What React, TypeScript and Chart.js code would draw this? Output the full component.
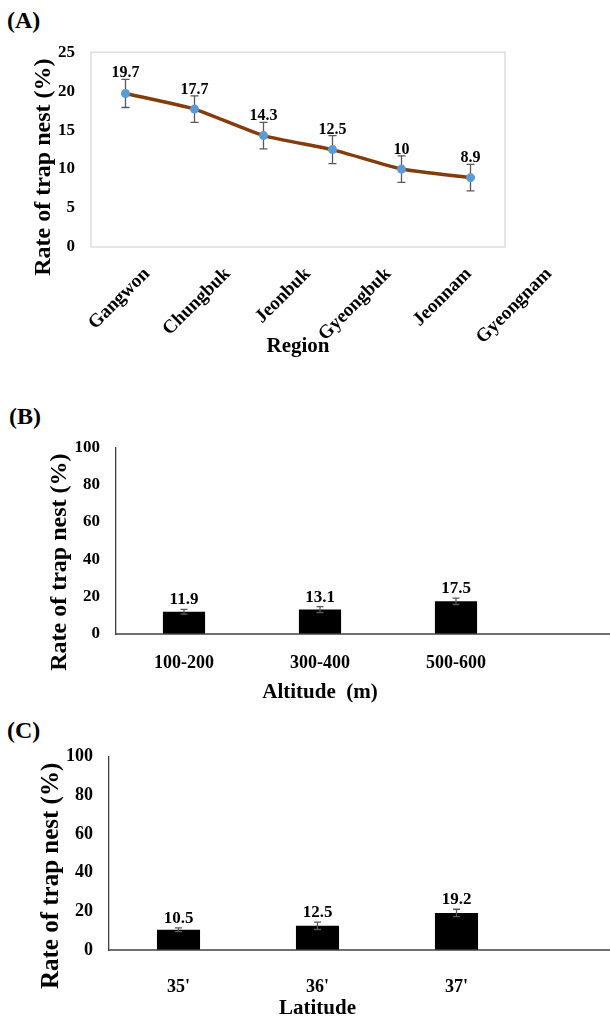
import React, { useEffect, useRef } from 'react';
import { Chart, registerables } from 'chart.js';

Chart.register(...registerables);

const FONT = '"Liberation Serif", "Times New Roman", serif';
Chart.defaults.font.family = FONT;
Chart.defaults.color = '#000';

// ---------- data ----------
const REGIONS = ['Gangwon', 'Chungbuk', 'Jeonbuk', 'Gyeongbuk', 'Jeonnam', 'Gyeongnam'];
const REGION_RATE = [19.7, 17.7, 14.3, 12.5, 10, 8.9];
const REGION_ERR = [1.8, 1.7, 1.7, 1.8, 1.7, 1.7];
const REGION_TICKS = [0, 5, 10, 15, 20, 25];

const ALTITUDES = ['100-200', '300-400', '500-600'];
const ALTITUDE_RATE = [11.9, 13.1, 17.5];
const ALTITUDE_ERR = [1.3, 1.6, 1.7];

const LATITUDES = ["35'", "36'", "37'"];
const LATITUDE_RATE = [10.5, 12.5, 19.2];
const LATITUDE_ERR = [1.0, 1.9, 1.9];

const BAR_TICKS = [0, 20, 40, 60, 80, 100];

const Y_TITLE = 'Rate of trap nest (%)';

// ---------- plugins ----------
function drawErrors(chart: any, o: any) {
  const meta = chart.getDatasetMeta(0);
  const vals = chart.data.datasets[0].data as number[];
  const ys = chart.scales.y;
  const ctx = chart.ctx;
  ctx.save();
  ctx.strokeStyle = o.color;
  ctx.lineWidth = o.width;
  meta.data.forEach((el: any, i: number) => {
    const v = vals[i];
    const e = o.errors[i];
    const top = ys.getPixelForValue(v + e);
    const bot = ys.getPixelForValue(v - e);
    const x = el.x;
    ctx.beginPath();
    ctx.moveTo(x, top);
    ctx.lineTo(x, bot);
    ctx.moveTo(x - o.cap, top);
    ctx.lineTo(x + o.cap, top);
    ctx.moveTo(x - o.cap, bot);
    ctx.lineTo(x + o.cap, bot);
    ctx.stroke();
  });
  ctx.restore();
}

function drawLabels(chart: any, o: any) {
  const meta = chart.getDatasetMeta(0);
  const vals = chart.data.datasets[0].data as number[];
  const ys = chart.scales.y;
  const ctx = chart.ctx;
  ctx.save();
  ctx.fillStyle = '#000';
  ctx.font = o.labelFont;
  ctx.textAlign = 'center';
  ctx.textBaseline = 'alphabetic';
  meta.data.forEach((el: any, i: number) => {
    const v = vals[i];
    const top = ys.getPixelForValue(v + o.errors[i]);
    ctx.fillText(String(v), el.x, top - o.labelGap);
  });
  ctx.restore();
}

const annotPlugin = {
  id: 'annot',
  beforeDatasetsDraw(chart: any, _a: any, o: any) {
    if (o.frame) {
      const { left, top, width, height } = chart.chartArea;
      const ctx = chart.ctx;
      ctx.save();
      ctx.strokeStyle = o.frame;
      ctx.lineWidth = 1.3;
      ctx.strokeRect(left, top, width, height);
      ctx.restore();
    }
    if (o.layer === 'below') drawErrors(chart, o);
  },
  afterDatasetsDraw(chart: any, _a: any, o: any) {
    if (o.layer !== 'below') drawErrors(chart, o);
    drawLabels(chart, o);
  },
  afterDraw(chart: any, _a: any, o: any) {
    const ctx = chart.ctx;
    const ca = chart.chartArea;
    if (o.baseline) {
      ctx.save();
      ctx.strokeStyle = o.baseline;
      ctx.lineWidth = 1.3;
      ctx.beginPath();
      ctx.moveTo(ca.left - 0.65, ca.bottom);
      ctx.lineTo(chart.width, ca.bottom);
      ctx.stroke();
      ctx.restore();
    }
    if (o.yTitle) {
      ctx.save();
      ctx.fillStyle = '#000';
      ctx.font = o.yTitleFont;
      ctx.textAlign = 'center';
      ctx.textBaseline = 'middle';
      ctx.translate(o.yTitleX, (ca.top + ca.bottom) / 2 + o.yTitleDy);
      ctx.rotate(-Math.PI / 2);
      ctx.fillText(o.yTitle, 0, 0);
      ctx.restore();
    }
  },
};

const bold = (size: number) => ({ family: FONT, size, weight: 'bold' as const });
const fontStr = (size: number) => `bold ${size}px ${FONT}`;

// ---------- configs ----------
function regionConfig(): any {
  return {
    type: 'line',
    data: {
      labels: REGIONS,
      datasets: [
        {
          data: REGION_RATE,
          borderColor: '#843C0C',
          borderWidth: 3.5,
          pointRadius: 4.5,
          pointBackgroundColor: '#5B9BD5',
          pointBorderColor: '#5B9BD5',
          pointBorderWidth: 0,
          tension: 0.15,
        },
      ],
    },
    plugins: [annotPlugin],
    options: {
      animation: false,
      responsive: false,
      events: [],
      layout: { padding: { left: 0, top: 0, right: 105, bottom: 11 } },
      plugins: {
        legend: { display: false },
        tooltip: { enabled: false },
        annot: {
          errors: REGION_ERR,
          color: '#595959',
          width: 1.3,
          cap: 4,
          layer: 'below',
          labelGap: 2,
          labelFont: fontStr(16),
          frame: '#d9d9d9',
          yTitle: Y_TITLE,
          yTitleFont: fontStr(24),
          yTitleX: 44,
          yTitleDy: 17.5,
        },
      },
      scales: {
        x: { type: 'category', display: false, offset: true },
        xl: {
          type: 'linear',
          position: 'bottom',
          min: -0.6965,
          max: 4.4527,
          grid: { display: false, drawTicks: false },
          border: { display: false },
          afterBuildTicks: (s: any) => {
            s.ticks = REGIONS.map((_, i) => ({ value: i }));
          },
          afterFit: (s: any) => {
            s.height = 112;
          },
          ticks: {
            autoSkip: false,
            minRotation: 45,
            maxRotation: 45,
            padding: 16,
            font: bold(19),
            color: '#000',
            callback: (v: any) => REGIONS[v] ?? '',
          },
          title: { display: true, text: 'Region', font: bold(21), color: '#000', padding: 0 },
        },
        y: {
          min: 0,
          max: 25,
          grid: { display: false, drawTicks: false },
          border: { display: false },
          afterBuildTicks: (s: any) => {
            s.ticks = REGION_TICKS.map((v) => ({ value: v }));
          },
          afterFit: (s: any) => {
            s.width = 91;
          },
          ticks: { padding: 16, font: bold(17), color: '#000' },
        },
      },
    },
  };
}

function barConfig(
  labels: string[],
  values: number[],
  errors: number[],
  p: {
    right: number;
    bottom: number;
    yWidth: number;
    xHeight: number;
    tickPad: number;
    title: string;
    tickSize: number;
    yTickSize: number;
    yTitleX: number;
    yTitleDy: number;
    yTitleSize: number;
    labelGap: number;
  }
): any {
  return {
    type: 'bar',
    data: {
      labels,
      datasets: [
        {
          data: values,
          backgroundColor: '#000',
          borderWidth: 0,
          barPercentage: 0.31,
          categoryPercentage: 1,
        },
      ],
    },
    plugins: [annotPlugin],
    options: {
      animation: false,
      responsive: false,
      events: [],
      layout: { padding: { left: 0, top: 0, right: p.right, bottom: p.bottom } },
      plugins: {
        legend: { display: false },
        tooltip: { enabled: false },
        annot: {
          errors,
          color: '#595959',
          width: 1.3,
          cap: 3.5,
          layer: 'above',
          labelGap: p.labelGap,
          labelFont: fontStr(17),
          baseline: '#404040',
          yTitle: Y_TITLE,
          yTitleFont: fontStr(p.yTitleSize),
          yTitleX: p.yTitleX,
          yTitleDy: p.yTitleDy,
        },
      },
      scales: {
        x: {
          grid: { display: false, drawTicks: false },
          border: { display: false },
          afterFit: (s: any) => {
            s.height = p.xHeight;
          },
          ticks: { padding: p.tickPad, font: bold(p.tickSize), color: '#000' },
          title: { display: true, text: p.title, font: bold(21), color: '#000', padding: 0 },
        },
        y: {
          min: 0,
          max: 100,
          grid: { display: false, drawTicks: false },
          border: { display: true, color: '#404040', width: 1.3 },
          afterBuildTicks: (s: any) => {
            s.ticks = BAR_TICKS.map((v) => ({ value: v }));
          },
          afterFit: (s: any) => {
            s.width = p.yWidth;
          },
          ticks: { padding: 16, font: bold(p.yTickSize), color: '#000' },
        },
      },
    },
  };
}

function ChartCanvas({ make, top, height }: { make: () => any; top: number; height: number }) {
  const ref = useRef<HTMLCanvasElement>(null);
  useEffect(() => {
    const chart = new Chart(ref.current as HTMLCanvasElement, make());
    return () => chart.destroy();
  }, []);
  return (
    <canvas
      ref={ref}
      width={610}
      height={height}
      style={{ position: 'absolute', left: 0, top, width: 610, height }}
    />
  );
}

const panelLabel = (text: string, left: number, top: number) => (
  <div
    style={{
      position: 'absolute',
      left,
      top,
      fontFamily: FONT,
      fontWeight: 'bold',
      fontSize: 24,
      lineHeight: '24px',
      color: '#000',
      whiteSpace: 'pre',
    }}
  >
    {text}
  </div>
);

export default function App() {
  return (
    <div
      style={{
        position: 'fixed',
        left: 0,
        top: 0,
        width: 610,
        height: 1021,
        background: '#fff',
        overflow: 'hidden',
      }}
    >
      {panelLabel('(A)', 7, 8)}
      {panelLabel('(B)', 9, 404)}
      {panelLabel('(C)', 7, 718)}
      <ChartCanvas make={regionConfig} top={26} height={344} />
      <ChartCanvas
        make={() =>
          barConfig(ALTITUDES, ALTITUDE_RATE, ALTITUDE_ERR, {
            right: 86,
            bottom: 5,
            yWidth: 116,
            xHeight: 71,
            tickPad: 19,
            title: 'Altitude  (m)',
            tickSize: 18,
            yTickSize: 17,
            yTitleX: 60,
            yTitleDy: 21.5,
            yTitleSize: 24,
            labelGap: 5,
          })
        }
        top={421}
        height={289}
      />
      <ChartCanvas
        make={() =>
          barConfig(LATITUDES, LATITUDE_RATE, LATITUDE_ERR, {
            right: 84,
            bottom: 0,
            yWidth: 109,
            xHeight: 71,
            tickPad: 27,
            title: 'Latitude',
            tickSize: 18,
            yTickSize: 18,
            yTitleX: 52,
            yTitleDy: 22.5,
            yTitleSize: 25,
            labelGap: 5,
          })
        }
        top={730}
        height={291}
      />
    </div>
  );
}
